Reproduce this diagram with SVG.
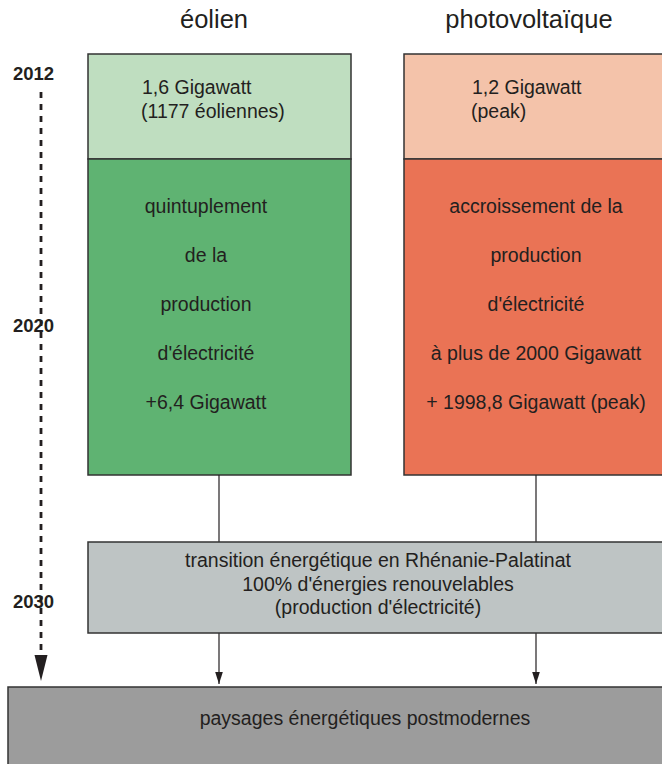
<svg xmlns="http://www.w3.org/2000/svg" width="662" height="764" viewBox="0 0 662 764">
<style>
text{font-family:"Liberation Sans",Arial,sans-serif;fill:#231f20}
.t{font-size:19.5px}
.c{text-anchor:middle}
.h{font-size:25.5px;text-anchor:middle}
.y{font-size:18.5px;font-weight:bold}
.box{stroke:#333;stroke-width:1.5}
.ln{stroke:#231f20;stroke-width:1.2;fill:none}
</style>
<defs>
<marker id="ah" markerWidth="12" markerHeight="8" refX="11" refY="3.5" orient="auto" markerUnits="userSpaceOnUse" viewBox="0 0 11 7">
<path d="M0,0 L11,3.5 L0,7 Z" fill="#231f20"/>
</marker>
</defs>
<g id="titles">
<text class="h" x="214" y="28">éolien</text>
<text class="h" x="529" y="28">photovoltaïque</text>
</g>
<g id="timeline">
<line x1="41" y1="92" x2="41" y2="656" stroke="#231f20" stroke-width="2.8" stroke-dasharray="6 6"/>
<path d="M34.5,655 L47.5,655 L41,681 Z" fill="#231f20"/>
<text class="y" x="13" y="80">2012</text>
<text class="y" x="13" y="332">2020</text>
<text class="y" x="13" y="608">2030</text>
</g>
<g id="wind-2012">
<rect class="box" x="88" y="54" width="263" height="105" fill="#bfdec0"/>
<text class="t" x="142" y="94">1,6 Gigawatt</text>
<text class="t" x="141" y="118">(1177 éoliennes)</text>
</g>
<g id="wind-2020">
<rect class="box" x="88" y="159" width="263" height="316" fill="#5fb372"/>
<text class="t c" x="206" y="213">quintuplement</text>
<text class="t c" x="206" y="262">de la</text>
<text class="t c" x="206" y="311">production</text>
<text class="t c" x="206" y="360">d'électricité</text>
<text class="t c" x="206" y="409">+6,4 Gigawatt</text>
</g>
<g id="pv-2012">
<rect class="box" x="404" y="54" width="270" height="105" fill="#f4c3aa"/>
<text class="t" x="472" y="94">1,2 Gigawatt</text>
<text class="t" x="471" y="118">(peak)</text>
</g>
<g id="pv-2020">
<rect class="box" x="404" y="159" width="270" height="316" fill="#ea7355"/>
<text class="t c" x="536" y="213">accroissement de la</text>
<text class="t c" x="536" y="262">production</text>
<text class="t c" x="536" y="311">d'électricité</text>
<text class="t c" x="536" y="360">à plus de 2000 Gigawatt</text>
<text class="t c" x="536" y="409">+ 1998,8 Gigawatt (peak)</text>
</g>
<g id="connectors">
<line class="ln" x1="219" y1="475" x2="219" y2="542"/>
<line class="ln" x1="536" y1="475" x2="536" y2="542"/>
<line class="ln" x1="219" y1="633" x2="219" y2="684" marker-end="url(#ah)"/>
<line class="ln" x1="536" y1="633" x2="536" y2="684" marker-end="url(#ah)"/>
</g>
<g id="transition">
<rect class="box" x="88" y="542" width="590" height="91" fill="#bec4c4"/>
<text class="t c" x="378" y="567">transition énergétique en Rhénanie-Palatinat</text>
<text class="t c" x="378" y="591">100% d'énergies renouvelables</text>
<text class="t c" x="378" y="614">(production d'électricité)</text>
</g>
<g id="landscapes">
<rect class="box" x="8" y="687" width="670" height="90" fill="#9c9c9c"/>
<text class="t c" x="365" y="725">paysages énergétiques postmodernes</text>
</g>
</svg>
